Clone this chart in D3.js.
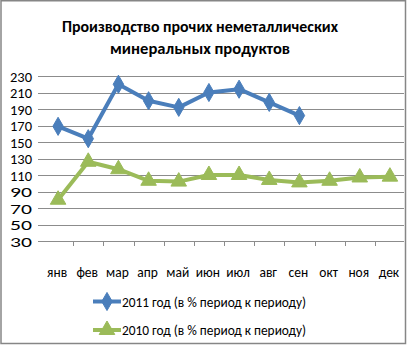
<!DOCTYPE html>
<html>
<head>
<meta charset="utf-8">
<script src="https://cdn.jsdelivr.net/npm/d3@7"></script>
<style>
  html, body { margin: 0; padding: 0; background: #fff; }
  svg { display: block; }
</style>
</head>
<body>
<svg id="chart" width="407" height="346"></svg>
<script>
// Months of the year
const months = ["янв", "фев", "мар", "апр", "май", "июн", "июл", "авг", "сен", "окт", "ноя", "дек"];
// 2011, percent period over period (data through September)
const values2011 = [169, 154, 220, 200, 192, 210, 214, 198, 182];
// 2010, percent period over period
const values2010 = [80, 126, 117, 103, 102, 110, 110, 104, 101, 103, 107, 108];
// Value axis ticks
const yTicks = [30, 50, 70, 90, 110, 130, 150, 170, 190, 210, 230];
const titleLines = ["Производство прочих неметаллических", "минеральных продуктов"];
const seriesNames = ["2011 год (в % период к периоду)", "2010 год (в % период к периоду)"];

const svg = d3.select("#chart");
const fontMain = "Calibri, 'Liberation Sans Narrow', 'Liberation Sans', Arial, sans-serif";

const x = d3.scaleBand().domain(months).range([43, 405]);
const y = d3.scaleLinear().domain([30, 230]).range([241, 76]);

// outer frame
svg.append("rect")
  .attr("x", 1).attr("y", 0.75).attr("width", 404.5).attr("height", 342.75)
  .attr("fill", "#fff").attr("stroke", "#868686").attr("stroke-width", 1.5);

// title
svg.append("g").selectAll("text").data(titleLines).join("text")
  .attr("x", 200).attr("y", (d, i) => 32 + i * 21.5)
  .attr("text-anchor", "middle")
  .attr("font-family", fontMain)
  .attr("font-weight", "bold")
  .attr("font-size", 15.5)
  .attr("fill", "#000")
  .attr("textLength", (d, i) => i === 0 ? 276 : 180)
  .attr("lengthAdjust", "spacingAndGlyphs")
  .text(d => d);

// horizontal gridlines
svg.append("g").selectAll("line").data(yTicks).join("line")
  .attr("x1", 38).attr("x2", 404)
  .attr("y1", d => Math.round(y(d)) + 0.5).attr("y2", d => Math.round(y(d)) + 0.5)
  .attr("stroke", "#8c8c8c").attr("stroke-width", 1);

// value axis labels
svg.append("g").selectAll("text").data(yTicks).join("text")
  .attr("x", 32).attr("y", d => y(d) + 5.5)
  .attr("text-anchor", "end")
  .attr("font-family", fontMain)
  .attr("font-size", 15)
  .attr("fill", "#000")
  .attr("textLength", 22)
  .attr("lengthAdjust", "spacingAndGlyphs")
  .text(d => d);

// category axis tick marks at band boundaries
const boundaries = months.map(m => x(m)).slice(1);
svg.append("g").selectAll("line").data(boundaries).join("line")
  .attr("x1", d => Math.round(d) + 0.5).attr("x2", d => Math.round(d) + 0.5)
  .attr("y1", 241).attr("y2", 246)
  .attr("stroke", "#8c8c8c").attr("stroke-width", 1);

// category labels
svg.append("g").selectAll("text").data(months).join("text")
  .attr("x", d => x(d) + x.bandwidth() / 2 - 1)
  .attr("y", 277)
  .attr("text-anchor", "middle")
  .attr("font-family", fontMain)
  .attr("font-size", 13.5)
  .attr("fill", "#000")
  .text(d => d);

const cx = (d, i) => x(months[i]) + x.bandwidth() / 2;
const line = d3.line().x(cx).y(d => y(d));

const blue = "#4a7ebb";
const green = "#9bbb59";

const diamond = d3.symbol().type(d3.symbolDiamond).size(95);
const triangle = d3.symbol().type(d3.symbolTriangle).size(105);

function drawSeries(vals, color, sym) {
  svg.append("path").datum(vals)
    .attr("d", line)
    .attr("fill", "none")
    .attr("stroke", color)
    .attr("stroke-width", 4)
    .attr("stroke-linejoin", "round");
  svg.append("g").selectAll("path").data(vals).join("path")
    .attr("transform", (d, i) => `translate(${cx(d, i)},${y(d)})`)
    .attr("d", sym)
    .attr("fill", color)
    .attr("stroke", color)
    .attr("stroke-width", 1);
}

drawSeries(values2010, green, triangle);
drawSeries(values2011, blue, diamond);

// legend
const legend = svg.append("g");
const legendItems = [
  { name: seriesNames[0], color: blue, sym: diamond, y: 301.5 },
  { name: seriesNames[1], color: green, sym: triangle, y: 330 }
];
legendItems.forEach(it => {
  legend.append("line")
    .attr("x1", 93).attr("x2", 121)
    .attr("y1", it.y).attr("y2", it.y)
    .attr("stroke", it.color).attr("stroke-width", 4);
  legend.append("path")
    .attr("transform", `translate(107,${it.y})`)
    .attr("d", it.sym)
    .attr("fill", it.color).attr("stroke", it.color);
  legend.append("text")
    .attr("x", 122).attr("y", it.y + 5)
    .attr("font-family", fontMain)
    .attr("font-size", 13.5)
    .attr("fill", "#000")
    .attr("textLength", 184)
    .attr("lengthAdjust", "spacingAndGlyphs")
    .text(it.name);
});
</script>
</body>
</html>
